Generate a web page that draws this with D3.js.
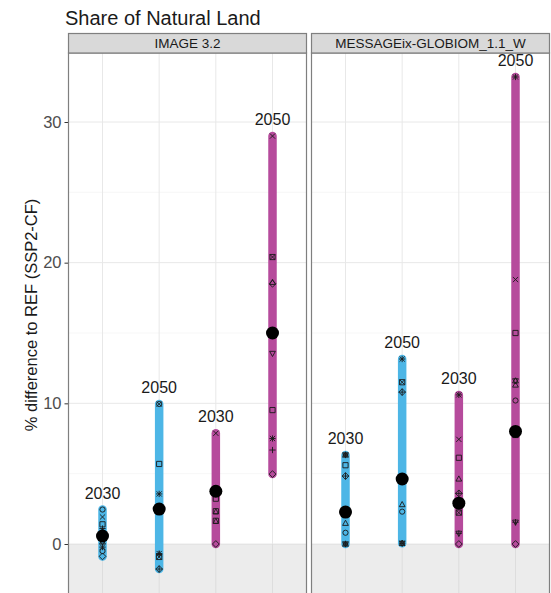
<!DOCTYPE html>
<html>
<head>
<meta charset="utf-8">
<script src="https://cdn.jsdelivr.net/npm/d3@7"></script>
<style>
  body { margin: 0; background: #fff; }
  text { font-family: "Liberation Sans", Arial, sans-serif; }
</style>
</head>
<body>
<svg id="chart" width="551" height="593"></svg>
<script>
// ---------------- DATA ----------------
const chartTitle = "Share of Natural Land";
const yAxisTitle = "% difference to REF (SSP2-CF)";
const panelNames = ["IMAGE 3.2", "MESSAGEix-GLOBIOM_1.1_W"];
const barLabels = ["2030", "2050", "2030", "2050"];
const barGroups = ["blue", "blue", "magenta", "magenta"];
const yTicks = [0, 10, 20, 30];

// Mean values (large black dots)
const imageMeans = [0.57, 2.48, 3.75, 15.0];
const messageMeans = [2.27, 4.62, 2.9, 8.0];

// Individual scenario values per bar
const imageValues = [
  [2.45, 1.92, 1.4, 1.1, 0.9, 0.15, -0.22, -0.5, -0.88],
  [9.95, 9.95, 5.69, 3.56, -0.68, -0.72, -0.92, -1.78],
  [7.87, 3.22, 2.33, 1.65, 0.0],
  [29.0, 20.4, 18.6, 18.5, 13.55, 9.52, 7.5, 6.68, 4.97]
];
const imageShapes = [
  ["circle", "cross", "square", "plus", "triUp", "star", "asterisk", "circle", "diamond"],
  ["cross", "circle", "square", "asterisk", "asterisk", "plus", "boxX", "diamondPlus"],
  ["cross", "square", "squareTri", "squareTri", "diamond"],
  ["cross", "boxX", "triUp", "diamond", "triDown", "square", "asterisk", "plus", "diamond"]
];
const messageValues = [
  [6.33, 6.33, 5.6, 4.83, 1.47, 0.8, 0.0, 0.0],
  [13.15, 11.5, 10.8, 2.8, 2.3, 0.05, 0.05],
  [10.6, 7.44, 6.13, 4.62, 3.6, 2.23, 0.76, 0.76, 0.0],
  [33.2, 18.8, 15.0, 11.6, 11.3, 10.2, 7.75, 1.55, 1.55, 0.0]
];
const messageShapes = [
  ["asterisk", "star", "square", "diamondPlus", "triUp", "circle", "asterisk", "star"],
  ["asterisk", "boxX", "diamondPlus", "triUp", "circle", "star", "asterisk"],
  ["asterisk", "cross", "square", "triUp", "diamondPlus", "boxX", "triDown", "plus", "diamond"],
  ["asterisk", "cross", "square", "star", "triUp", "circle", "boxX", "triDown", "plus", "diamond"]
];

const groupColors = { blue: "#4db6e6", magenta: "#b64b9c" };

// ---------------- LAYOUT ----------------
const svg = d3.select("#chart");
svg.append("rect").attr("width", 551).attr("height", 593).attr("fill", "#fff");

const panelTop = 53, panelBottom = 600;
const stripTop = 33.5;
const panelX = [[68.5, 306.5], [311.5, 549.5]];

const y = d3.scaleLinear().domain([0, 30]).range([544, 122]);

svg.append("text")
  .attr("x", 65).attr("y", 25)
  .attr("font-size", 20).attr("fill", "#1a1a1a")
  .text(chartTitle);

svg.append("text")
  .attr("transform", "translate(37,315) rotate(-90)")
  .attr("text-anchor", "middle")
  .attr("font-size", 16.5).attr("fill", "#1a1a1a")
  .text(yAxisTitle);

// y axis
const yAxis = d3.axisLeft(y).tickValues(yTicks).tickSize(4).tickPadding(3);
const yg = svg.append("g").attr("transform", `translate(${panelX[0][0]},0)`).call(yAxis);
yg.select(".domain").remove();
yg.selectAll(".tick line").attr("stroke", "#333").attr("stroke-width", 1);
yg.selectAll(".tick text").attr("font-size", 16.5).attr("fill", "#4d4d4d")
  .attr("font-family", "Liberation Sans, Arial, sans-serif");

// symbol paths
function symbolPath(shape, s) {
  const sq = `M${-s},${-s}L${s},${-s}L${s},${s}L${-s},${s}Z`;
  const circ = `M${s},0A${s},${s} 0 1,1 ${-s},0A${s},${s} 0 1,1 ${s},0Z`;
  const plus = `M${-s * 1.2},0L${s * 1.2},0M0,${-s * 1.2}L0,${s * 1.2}`;
  const cross = `M${-s},${-s}L${s},${s}M${-s},${s}L${s},${-s}`;
  const dia = `M0,${-s * 1.3}L${s * 1.3},0L0,${s * 1.3}L${-s * 1.3},0Z`;
  const tu = `M0,${-s * 1.2}L${s * 1.1},${s * 0.8}L${-s * 1.1},${s * 0.8}Z`;
  const td = `M0,${s * 1.2}L${s * 1.1},${-s * 0.8}L${-s * 1.1},${-s * 0.8}Z`;
  switch (shape) {
    case "square": return sq;
    case "circle": return circ;
    case "plus": return plus;
    case "cross": return cross;
    case "diamond": return dia;
    case "triUp": return tu;
    case "triDown": return td;
    case "asterisk": return plus + cross;
    case "boxX": return sq + cross;
    case "diamondPlus": return dia + `M${-s * 1.3},0L${s * 1.3},0M0,${-s * 1.3}L0,${s * 1.3}`;
    case "star": return tu + td;
    case "squareTri": return sq + `M0,${-s}L${s},${s}L${-s},${s}Z`;
    default: return circ;
  }
}

const panelMeans = [imageMeans, messageMeans];
const panelValues = [imageValues, messageValues];
const panelShapes = [imageShapes, messageShapes];

panelNames.forEach((name, pi) => {
  const [x0, x1] = panelX[pi];
  const x = d3.scalePoint().domain(d3.range(barLabels.length)).range([x0, x1]).padding(0.6);
  const g = svg.append("g");
  const clipId = "clip" + pi;
  g.append("clipPath").attr("id", clipId)
    .append("rect").attr("x", x0).attr("y", panelTop).attr("width", x1 - x0).attr("height", panelBottom - panelTop);

  const inner = g.append("g").attr("clip-path", `url(#${clipId})`);
  inner.append("rect").attr("x", x0).attr("y", panelTop).attr("width", x1 - x0)
    .attr("height", panelBottom - panelTop).attr("fill", "#fff");

  // minor grid
  [5, 15, 25, 35].forEach(v => {
    inner.append("line").attr("x1", x0).attr("x2", x1).attr("y1", y(v)).attr("y2", y(v))
      .attr("stroke", "#f2f2f2").attr("stroke-width", 0.6);
  });
  yTicks.forEach(v => {
    inner.append("line").attr("x1", x0).attr("x2", x1).attr("y1", y(v)).attr("y2", y(v))
      .attr("stroke", "#e8e8e8").attr("stroke-width", 1);
  });
  d3.range(barLabels.length).forEach(i => {
    inner.append("line").attr("x1", x(i)).attr("x2", x(i)).attr("y1", panelTop).attr("y2", panelBottom)
      .attr("stroke", "#e8e8e8").attr("stroke-width", 1);
  });

  // grey region below zero
  inner.append("rect").attr("x", x0).attr("y", y(0)).attr("width", x1 - x0)
    .attr("height", panelBottom - y(0)).attr("fill", "#c8c8c8").attr("opacity", 0.35);

  // bars
  d3.range(barLabels.length).forEach(i => {
    const vals = panelValues[pi][i];
    const mx = d3.max(vals), mn = d3.min(vals);
    inner.append("line")
      .attr("x1", x(i)).attr("x2", x(i)).attr("y1", y(mx)).attr("y2", y(mn))
      .attr("stroke", groupColors[barGroups[i]]).attr("stroke-width", 8.5)
      .attr("stroke-linecap", "round");
    vals.forEach((v, k) => {
      inner.append("path")
        .attr("d", symbolPath(panelShapes[pi][i][k], 2.6))
        .attr("transform", `translate(${x(i)},${y(v)})`)
        .attr("fill", "none").attr("stroke", "#1a1a1a").attr("stroke-width", 0.9);
    });
    inner.append("circle").attr("cx", x(i)).attr("cy", y(panelMeans[pi][i])).attr("r", 6.5)
      .attr("fill", "#000");
    inner.append("text")
      .attr("x", x(i)).attr("y", y(mx) - 11)
      .attr("text-anchor", "middle").attr("font-size", 16).attr("fill", "#1a1a1a")
      .text(barLabels[i]);
  });

  // panel border
  g.append("rect").attr("x", x0).attr("y", panelTop).attr("width", x1 - x0)
    .attr("height", panelBottom - panelTop).attr("fill", "none")
    .attr("stroke", "#7f7f7f").attr("stroke-width", 1.2);

  // strip
  g.append("rect").attr("x", x0).attr("y", stripTop).attr("width", x1 - x0)
    .attr("height", panelTop - stripTop).attr("fill", "#d9d9d9")
    .attr("stroke", "#7f7f7f").attr("stroke-width", 1.2);
  g.append("text").attr("x", (x0 + x1) / 2).attr("y", stripTop + 14.5)
    .attr("text-anchor", "middle").attr("font-size", 13.5).attr("fill", "#1a1a1a")
    .text(name);
});
</script>
</body>
</html>
